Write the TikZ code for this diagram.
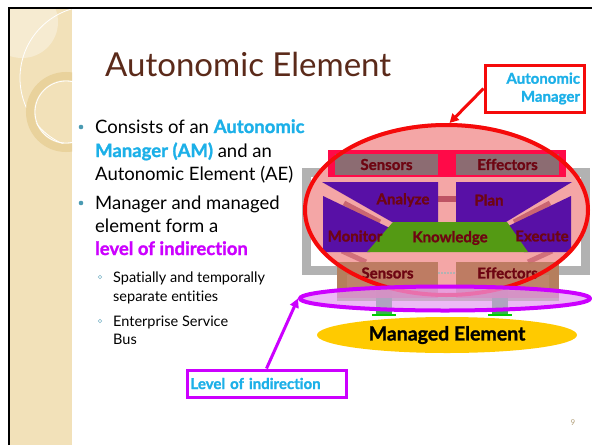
\documentclass[tikz,border=0pt]{standalone}
\usepackage{fontspec}
\setmainfont{Lato}[Ligatures=NoCommon, BoldFeatures={FakeBold=1.3}]
\usetikzlibrary{shapes.geometric,arrows.meta}

\definecolor{titlebrown}{HTML}{5B2A1A}
\definecolor{amcyan}{HTML}{1CB0E8}
\definecolor{indmag}{HTML}{CC00FF}
\definecolor{stripbeige}{HTML}{F2E1B9}
\definecolor{ringtan}{HTML}{E9D29C}
\definecolor{amred}{HTML}{F50A0A}
\definecolor{ampink}{HTML}{F4A6A6}
\definecolor{barred}{HTML}{FF0A48}
\definecolor{boxgray}{HTML}{8C6C72}
\definecolor{loopred}{HTML}{A83048}
\definecolor{mapepurple}{HTML}{5810A6}
\definecolor{kgreen}{HTML}{549A14}
\definecolor{sebrown}{HTML}{B9785C}
\definecolor{lgreen}{HTML}{94C46C}
\definecolor{dgreen}{HTML}{36B44C}
\definecolor{mgold}{HTML}{FFCA00}
\definecolor{violetfill}{HTML}{E49CF2}
\definecolor{labelred}{HTML}{6E0512}
\definecolor{bulletteal}{HTML}{4A9AB2}
\definecolor{pagetan}{HTML}{B4A27E}

\tikzset{
	txt/.style={anchor=base west, inner sep=0pt, font=\fontsize{18.5}{20}\selectfont},
	subtxt/.style={anchor=base west, inner sep=0pt, font=\fontsize{14.5}{16}\selectfont},
	lbl/.style={inner sep=0pt, text=labelred, font=\bfseries\fontsize{15}{16}\selectfont},
	callout/.style={draw, fill=white, line width=3pt, inner sep=0pt, text=amcyan, font=\bfseries\fontsize{15}{18}\selectfont},
}

\begin{document}
\begin{tikzpicture}[x=1pt, y=-1pt]
		\useasboundingbox (0, 0) rectangle (592, 445);
		\fill[white] (0, 0) rectangle (592, 445);

		% left strip
		\fill[stripbeige] (10, 9) rectangle (72, 445);
		\begin{scope}
			\clip (10, 9) rectangle (72, 445);
			\fill[white, opacity=0.35] (22, 22) circle (36);
			\draw[white, line width=0.8pt] (92, 78) circle (72);
			\draw[ringtan, line width=8pt] (66, 112) circle (36);
			\draw[white, line width=0.8pt] (66, 112) circle (31);
		\end{scope}
		\draw[line width=2.5pt] (9, 445) -- (9, 8) -- (592, 8);

		% title and bullets
		\node[anchor=base west, inner sep=0pt, text=titlebrown, font=\fontsize{33}{36}\selectfont] (title) at (105, 76) {Autonomic Element};
		\fill[bulletteal] (81, 127) circle (2.3);
		\node[txt] (l1) at (95, 133) {Consists of an \textbf{\color{amcyan}Autonomic}};
		\node[txt] (l2) at (95, 157) {\textbf{\color{amcyan}Manager (AM)} and an};
		\node[txt] (l3) at (95, 180) {Autonomic Element (AE)};
		\fill[bulletteal] (81, 203) circle (2.3);
		\node[txt] (l4) at (95, 209) {Manager and managed};
		\node[txt] (l5) at (95, 232) {element form a};
		\node[txt] (l6) at (95, 255) {\textbf{\color{indmag}level of indirection}};
		\draw[bulletteal!70, line width=0.6pt] (100, 277) circle (1.8);
		\node[subtxt] (s1) at (113, 282) {Spatially and temporally};
		\node[subtxt] (s2) at (113, 301) {separate entities};
		\draw[bulletteal!70, line width=0.6pt] (100, 321) circle (1.8);
		\node[subtxt] (s3) at (113, 326) {Enterprise Service};
		\node[subtxt] (s4) at (113, 344) {Bus};

		% element frame and touchpoint
		\draw[black!30, line width=9pt] (306.5, 172.5) rectangle (585.5, 270.5);
		\draw[lgreen, line width=10pt] (342, 268) rectangle (554, 296);
		\fill[dgreen] (376, 284) rectangle (392, 315);
		\fill[dgreen] (492, 284) rectangle (508, 315);
		\draw[green!80!black, line width=2pt] (372, 315) -- (396, 315);
		\draw[green!80!black, line width=2pt] (488, 315) -- (512, 315);

		% manager
		\fill[ampink] (446.5, 210) ellipse (143.5 and 87);
		\fill[barred] (328, 150) rectangle (566, 177);
		\fill[boxgray] (335, 154) rectangle (438, 175);
		\fill[boxgray] (456, 154) rectangle (559, 175);
		\node[lbl] (si) at (386.5, 164.5) {Sensors};
		\node[lbl] (ei) at (507.5, 164.5) {Effectors};

		\draw[loopred, line width=6pt, opacity=0.7] (436, 199) -- (458, 199);
		\draw[loopred, line width=5pt, opacity=0.55] (344, 203) -- (380, 222);
		\draw[loopred, line width=5pt, opacity=0.55] (550, 203) -- (514, 222);
		\draw[loopred, line width=5pt, opacity=0.45] (342, 251) -- (366, 262);
		\draw[loopred, line width=5pt, opacity=0.45] (552, 251) -- (528, 262);

		\fill[mapepurple] (322, 182) -- (438, 182) -- (438, 222) -- (392, 222) -- cycle;
		\fill[mapepurple] (456, 182) -- (572, 182) -- (506, 222) -- (456, 222) -- cycle;
		\fill[mapepurple] (323, 196) -- (394, 230) -- (370, 252) -- (323, 252) -- cycle;
		\fill[mapepurple] (571, 196) -- (500, 230) -- (524, 252) -- (571, 252) -- cycle;
		\fill[kgreen] (393, 222) -- (507, 222) -- (528, 252) -- (367, 252) -- cycle;
		\node[lbl] (a) at (403, 200) {Analyze};
		\node[lbl] (p) at (489, 200) {Plan};
		\node[lbl] (m) at (355, 236) {Monitor};
		\node[lbl] (k) at (450, 238) {Knowledge};
		\node[lbl] (e) at (542, 236) {Execute};

		\fill[sebrown, opacity=0.9] (337, 262) rectangle (438, 298);
		\fill[sebrown, opacity=0.9] (456, 262) rectangle (559, 298);
		\draw[black!30, line width=2pt, dash pattern=on 2pt off 1pt] (438, 273) -- (456, 273);
		\node[lbl] (so) at (387.5, 273) {Sensors};
		\node[lbl] (eo) at (507.5, 273) {Effectors};

		\node[ellipse, draw=amred, line width=4pt, minimum width=283pt, minimum height=170pt, inner sep=0pt] (mgr) at (446.5, 210) {};

		% level of indirection
		\node[ellipse, draw=indmag, fill=violetfill, fill opacity=0.7, line width=4pt, minimum width=290pt, minimum height=24pt, inner sep=0pt] (ind) at (445, 298.5) {};

		% managed element
		\node[ellipse, fill=mgold, minimum width=260pt, minimum height=36pt, inner sep=0pt, font=\bfseries\fontsize{19.5}{22}\selectfont] (me) at (447, 335) {Managed Element};

		% callouts
		\node[callout, draw=amred, minimum width=99pt, minimum height=47pt, text width=91pt, align=right] (am) at (534.5, 88.5) {Autonomic\\Manager};
		\draw[amred, line width=3pt, -{Triangle[length=9pt, width=9pt]}] (am.west) -- (mgr.88);
		\node[callout, draw=indmag, minimum width=159pt, minimum height=27pt, text width=152pt, align=left] (lvl) at (266.5, 383.5) {Level of indirection};
		\draw[indmag, line width=3pt, -{Triangle[length=9pt, width=9pt]}] (lvl.north) -- (ind.west);

		\node[text=pagetan, inner sep=0pt, font=\fontsize{8}{9}\selectfont] (pg) at (573, 423) {9};
\end{tikzpicture}
\end{document}
